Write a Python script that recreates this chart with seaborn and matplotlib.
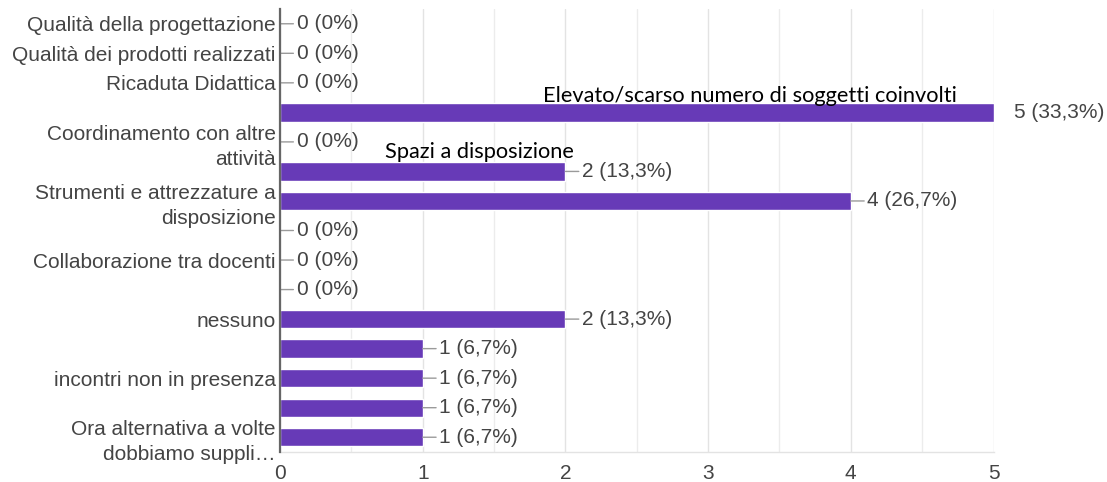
import numpy as np
import pandas as pd
import matplotlib
matplotlib.use("Agg")
import matplotlib.pyplot as plt
import seaborn as sns

# answers shown on the y axis (Google Forms hides some labels when crowded)
option_labels = [
    "Qualità della progettazione",
    "Qualità dei prodotti realizzati",
    "Ricaduta Didattica",
    "",
    "Coordinamento con altre\nattività",
    "",
    "Strumenti e attrezzature a\ndisposizione",
    "",
    "Collaborazione tra docenti",
    "",
    "nessuno",
    "",
    "incontri non in presenza",
    "",
    "Ora alternativa a volte\ndobbiamo suppli…",
]
counts = [0, 0, 0, 5, 0, 2, 4, 0, 0, 0, 2, 1, 1, 1, 1]
respondents = 15

# labels pasted over the chart for two of the hidden rows
overlay_texts = ["Elevato/scarso numero di soggetti coinvolti", "Spazi a disposizione"]
overlay_rows = [3, 5]

BAR = "#673ab7"
TEXT = "#444444"
FS = 15

sns.set_theme(style="white")
plt.rcParams["font.family"] = ["Liberation Sans", "DejaVu Sans"]

df = pd.DataFrame({"row": np.arange(len(counts)), "count": counts})

fig = plt.figure(figsize=(11.07, 4.82), dpi=100)
ax = fig.add_axes([280 / 1107, 30 / 482, 713.5 / 1107, 443 / 482])

sns.barplot(data=df, x="count", y="row", orient="y", color=BAR, saturation=1,
            width=0.62, ax=ax, zorder=3)

ax.set_xlim(0, 5)
ax.set_ylim(len(counts) - 0.5, -0.5)
ax.set_xticks(range(6))
ax.set_xticks(np.arange(0.5, 5, 1), minor=True)
ax.grid(axis="x", which="major", color="#e3e3e3", lw=1, zorder=0)
ax.grid(axis="x", which="minor", color="#ececec", lw=1, zorder=0)
ax.grid(axis="y", visible=False)

ax.set_yticks(range(len(option_labels)))
ax.set_yticklabels(option_labels)
for t in ax.get_yticklabels():
    t.set_linespacing(1.4)
ax.tick_params(axis="y", length=0, pad=3, labelsize=FS, labelcolor=TEXT)
ax.tick_params(axis="x", which="both", length=0, pad=8.5, labelsize=FS, labelcolor=TEXT)
ax.set_xlabel("")
ax.set_ylabel("")

for side in ["top", "right"]:
    ax.spines[side].set_visible(False)
ax.spines["left"].set_color("#666666")
ax.spines["left"].set_linewidth(1.6)
ax.spines["left"].set_zorder(4)
ax.spines["bottom"].set_color("#e3e3e3")
ax.spines["bottom"].set_linewidth(1)

# value labels with leader lines
for i, v in enumerate(counts):
    if v == 0:
        pct = "0%"
    else:
        pct = f"{v / respondents * 100:.1f}".replace(".", ",") + "%"
    label = f"{v} ({pct})"
    if v >= ax.get_xlim()[1]:
        # label for the longest bar sits a bit further out, no leader line
        ax.annotate(label, xy=(v, i), xytext=(14.5, 0), textcoords="offset points",
                    ha="left", va="center", fontsize=FS, color=TEXT,
                    annotation_clip=False)
    else:
        ax.annotate(label, xy=(v, i), xytext=(12, 0), textcoords="offset points",
                    ha="left", va="center", fontsize=FS, color=TEXT,
                    annotation_clip=False,
                    arrowprops=dict(arrowstyle="-", color="#9a9a9a", lw=1,
                                    shrinkA=0, shrinkB=0))

# pasted-on overlay texts
overlay_x = [1.84, 0.735]
overlay_dy = [-0.55, -0.66]
for txt, r, x, dy in zip(overlay_texts, overlay_rows, overlay_x, overlay_dy):
    ax.text(x, r + dy, txt, family=["Lato", "DejaVu Sans"], fontsize=15.7,
            color="black", ha="left", va="center", zorder=5)

fig.savefig("out.png", dpi=100)
